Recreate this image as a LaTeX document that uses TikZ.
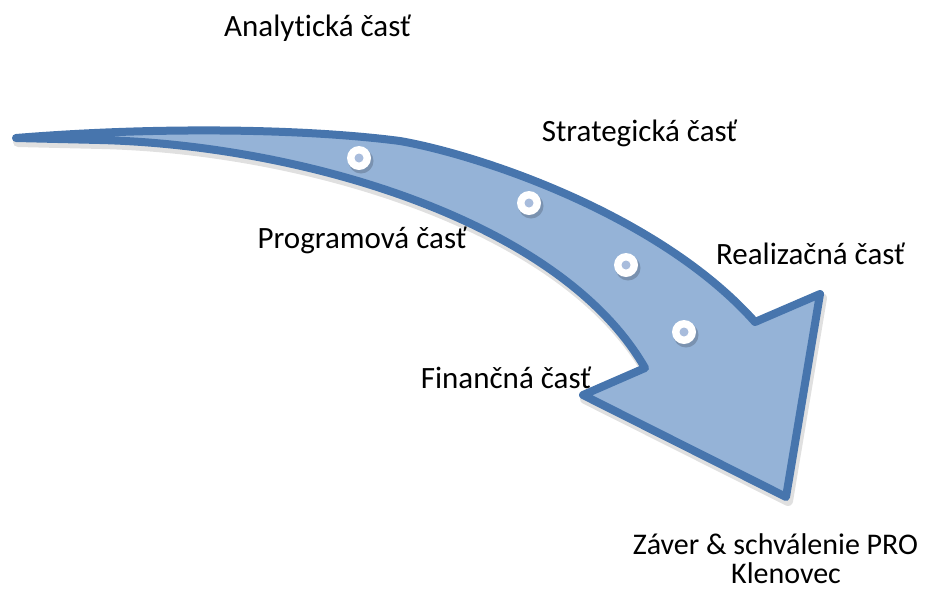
\documentclass[tikz,border=0pt]{standalone}
\usepackage{fontspec}
\setmainfont{Carlito}[Ligatures=NoCommon]
\definecolor{arrowline}{RGB}{71,117,173}
\definecolor{arrowfill}{RGB}{149,179,215}
\definecolor{dotcore}{RGB}{168,188,220}
\newcommand\myArrowPath{(16,138) .. controls (150,127) and (300,128) .. (400,141)
  .. controls (480,155) and (660,215) .. (755,322)
  -- (820,294) -- (786,497) -- (583,395) -- (645,368)
  .. controls (560,220) and (300,145) .. (100,140) -- cycle}
\tikzset{
  label text/.style={font=\fontsize{31}{37}\selectfont, text=black, inner sep=0pt, anchor=base},
  end text/.style={font=\fontsize{30}{36}\selectfont, text=black, inner sep=0pt, anchor=base},
  dotring/.style={circle, fill=white, minimum size=24pt, inner sep=0pt},
  dotinner/.style={circle, fill=dotcore, minimum size=9pt, inner sep=0pt},
  dotshadow/.style={circle, fill=black, opacity=0.18, minimum size=25pt, inner sep=0pt}
}
\begin{document}
\begin{tikzpicture}[x=1pt,y=-1pt]
\useasboundingbox (0,0) rectangle (941,590);
% arrow shadow
\begin{scope}[shift={(2,4)}]
  \draw[black, opacity=0.12, line width=10pt, line join=round] \myArrowPath;
\end{scope}
% arrow
\draw[arrowline, fill=arrowfill, line width=8pt, line join=round] \myArrowPath;
% dots
\foreach \n/\px/\py in {1/359/158,2/529/203,3/626/265,4/684/332}{
  \node[dotshadow] (sh\n) at (\px+2,\py+3) {};
  \node[dotring] (dot\n) at (\px,\py) {};
  \node[dotinner] (core\n) at (dot\n) {};
}
% labels
\node[label text] (analyticka) at (317.5,36.7) {Analytická časť};
\node[label text] (strategicka) at (639.5,141.7) {Strategická časť};
\node[label text] (programova) at (362,248.7) {Programová časť};
\node[label text] (realizacna) at (810.5,264.7) {Realizačná časť};
\node[label text] (financna) at (506,388.7) {Finančná časť};
\node[end text] (zaver) at (775.5,554) {Záver \& schválenie PRO};
\node[end text] (klenovec) at (786,583.5) {Klenovec};
\end{tikzpicture}
\end{document}
